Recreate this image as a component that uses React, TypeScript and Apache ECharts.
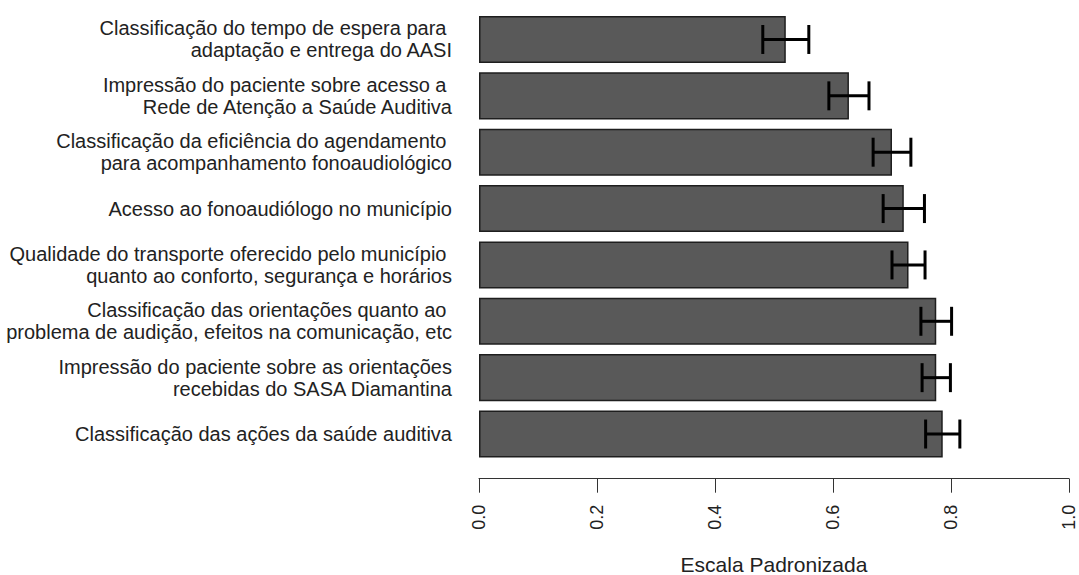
import React, { useEffect, useRef } from "react";
import * as echarts from "echarts";

const categories = [
  "Classificação do tempo de espera para \nadaptação e entrega do AASI",
  "Impressão do paciente sobre acesso a \nRede de Atenção a Saúde Auditiva",
  "Classificação da eficiência do agendamento \npara acompanhamento fonoaudiológico",
  "Acesso ao fonoaudiólogo no município",
  "Qualidade do transporte oferecido pelo município \nquanto ao conforto, segurança e horários",
  "Classificação das orientações quanto ao \nproblema de audição, efeitos na comunicação, etc",
  "Impressão do paciente sobre as orientações\nrecebidas do SASA Diamantina",
  "Classificação das ações da saúde auditiva",
];
const means = [0.52, 0.627, 0.7, 0.72, 0.728, 0.775, 0.775, 0.786];
const errors = [0.039, 0.034, 0.032, 0.035, 0.028, 0.026, 0.024, 0.029];
const xTicks = [0, 0.2, 0.4, 0.6, 0.8, 1.0];

const FONT = "'Liberation Sans', Arial, sans-serif";

export default function App() {
  const ref = useRef<HTMLDivElement>(null);
  useEffect(() => {
    if (!ref.current) return;
    const chart = echarts.init(ref.current, null, { renderer: "svg" });
    const errData = means.map((m, i) => [i, m - errors[i], m + errors[i]]);
    chart.setOption({
      animation: false,
      backgroundColor: "#ffffff",
      grid: {
        left: 479,
        right: 10,
        top: 11.3,
        bottom: 112.8,
        containLabel: false,
        outerBoundsMode: "none",
      },
      xAxis: {
        type: "value",
        min: xTicks[0],
        max: xTicks[xTicks.length - 1],
        interval: 0.2,
        offset: 16.5,
        name: "Escala Padronizada",
        nameLocation: "middle",
        nameGap: 86,
        nameTextStyle: { fontFamily: FONT, fontSize: 21, color: "#222", verticalAlign: "middle" },
        axisLine: { show: true, lineStyle: { color: "#333", width: 1 } },
        axisTick: { show: true, length: 14, lineStyle: { color: "#333", width: 1 } },
        splitLine: { show: false },
        axisLabel: {
          rotate: 90,
          margin: 26,
          fontFamily: FONT,
          fontSize: 18,
          color: "#222",
          formatter: (v: number) => v.toFixed(1),
        },
      },
      yAxis: {
        type: "category",
        inverse: true,
        data: categories,
        axisLine: { show: false },
        axisTick: { show: false },
        splitLine: { show: false },
        axisLabel: {
          margin: 27,
          fontFamily: FONT,
          fontSize: 20,
          lineHeight: 22,
          color: "#222",
          align: "right",
        },
      },
      series: [
        {
          type: "bar",
          data: means,
          barCategoryGap: "16.5%",
          itemStyle: { color: "#595959", borderColor: "#1e1e1e", borderWidth: 1.5 },
          silent: true,
        },
        {
          type: "custom",
          data: errData,
          encode: { x: [1, 2], y: 0 },
          silent: true,
          z: 10,
          renderItem: (params: any, api: any) => {
            const idx = api.value(0);
            const lo = api.value(1);
            const hi = api.value(2);
            const p1 = api.coord([lo, idx]);
            const p2 = api.coord([hi, idx]);
            const half = api.size([0, 1])[1] * 0.257;
            const style = { stroke: "#000", lineWidth: 3 };
            return {
              type: "group",
              children: [
                { type: "line", shape: { x1: p1[0], y1: p1[1], x2: p2[0], y2: p2[1] }, style },
                { type: "line", shape: { x1: p1[0], y1: p1[1] - half, x2: p1[0], y2: p1[1] + half }, style },
                { type: "line", shape: { x1: p2[0], y1: p2[1] - half, x2: p2[0], y2: p2[1] + half }, style },
              ],
            };
          },
        },
      ],
    });
    return () => chart.dispose();
  }, []);
  return (
    <div
      ref={ref}
      style={{ position: "fixed", left: 0, top: 0, width: 1079, height: 575, background: "#fff" }}
    />
  );
}
